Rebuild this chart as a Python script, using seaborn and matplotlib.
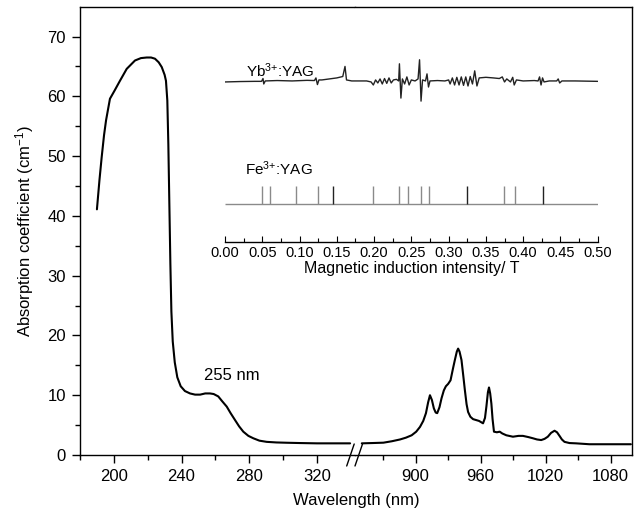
import numpy as np
import matplotlib
matplotlib.use("Agg")
import matplotlib.pyplot as plt
from matplotlib.lines import Line2D
import seaborn as sns

# absorption spectrum, UV part (nm, cm^-1)
uv_nm = [190.0, 191.5, 192.8, 194.2, 195.4, 197.7, 200.5, 203.6, 207.6, 212.5,
         216.0, 219.4, 222.0, 224.3, 226.5, 228.3, 230.0, 230.8, 231.6, 232.2,
         232.8, 233.4, 234.0, 234.8, 236.0, 237.5, 239.5, 242.0, 245.0, 248.0,
         251.0, 254.0, 256.8, 259.0, 261.7, 264.0, 266.7, 269.0, 271.6, 274.0,
         276.5, 279.5, 282.4, 286.0, 290.3, 296.0, 302.2, 310.0, 320.0, 329.7,
         339.6]
uv_abs = [41.1, 46.0, 49.8, 53.5, 56.0, 59.6, 61.0, 62.6, 64.6, 66.0,
          66.4, 66.5, 66.5, 66.3, 65.7, 64.9, 63.6, 62.6, 59.3, 52.0,
          42.0, 32.0, 24.0, 19.0, 15.5, 13.0, 11.5, 10.7, 10.3, 10.1,
          10.1, 10.3, 10.3, 10.2, 9.8, 9.0, 8.1, 7.0, 5.85, 4.8,
          3.9, 3.2, 2.8, 2.4, 2.2, 2.1, 2.05, 2.0, 1.95, 1.95,
          1.95]

# absorption spectrum, NIR part
nir_nm = [850.3, 860, 870.2, 878, 885.6, 891, 896.3, 900.5, 904, 907,
          909.5, 911.5, 913.2, 915, 916.8, 918.5, 919.9, 922, 923.9, 926,
          927.9, 930, 932.2, 934.5, 936.2, 938, 939.2, 940.5, 942.3, 944,
          945.4, 947, 948.4, 950.5, 953, 958.5, 962.2, 964, 965.3, 966.7,
          967.7, 968.8, 969.9, 971, 972.3, 975, 977.6, 980, 983.7, 989.8,
          995, 999, 1004, 1008.2, 1012, 1015.9, 1019, 1022, 1025, 1028.2,
          1030.5, 1032.8, 1035, 1037.4, 1042, 1048.1, 1060.4, 1098.7]
nir_abs = [1.95, 2.0, 2.06, 2.3, 2.6, 2.9, 3.3, 3.9, 4.7, 5.7,
           7.0, 8.8, 10.0, 9.2, 7.8, 7.1, 7.0, 8.0, 9.5, 10.8,
           11.5, 11.9, 12.5, 14.5, 15.9, 17.3, 17.8, 17.3, 15.9, 13.2,
           10.9, 8.5, 7.2, 6.4, 6.0, 5.7, 5.3, 6.2, 8.1, 10.5,
           11.3, 10.3, 8.6, 6.0, 3.9, 3.8, 3.9, 3.6, 3.3, 3.06,
           3.2, 3.2, 3.0, 2.8, 2.6, 2.5, 2.7, 3.06, 3.7, 4.06,
           3.8, 3.2, 2.6, 2.2, 2.0, 1.95, 1.8, 1.8]

# EPR trace of Yb3+:YAG (field in T, signal in arbitrary units)
yb_field = [0.000, 0.020, 0.040, 0.049, 0.051, 0.052, 0.054, 0.070, 0.090, 0.110,
            0.120, 0.122, 0.124, 0.126, 0.130, 0.140, 0.150, 0.158, 0.161, 0.163,
            0.170, 0.190, 0.196, 0.199, 0.202, 0.205, 0.208, 0.211, 0.214, 0.217,
            0.220, 0.223, 0.226, 0.230, 0.233, 0.234, 0.236, 0.238, 0.241, 0.244,
            0.247, 0.250, 0.255, 0.259, 0.261, 0.263, 0.265, 0.269, 0.271, 0.273,
            0.275, 0.285, 0.295, 0.300, 0.302, 0.305, 0.308, 0.311, 0.314, 0.317,
            0.320, 0.323, 0.326, 0.329, 0.332, 0.335, 0.338, 0.341, 0.350, 0.360,
            0.368, 0.372, 0.375, 0.378, 0.383, 0.386, 0.388, 0.391, 0.400, 0.415,
            0.420, 0.422, 0.424, 0.426, 0.428, 0.435, 0.445, 0.447, 0.449, 0.452,
            0.470, 0.500]
yb_signal = [-0.05, -0.03, -0.02, -0.02, 0.12, -0.15, 0.0, 0.02, 0.0, 0.03,
             0.02, 0.15, -0.18, 0.05, 0.05, 0.10, 0.15, 0.22, 0.72, 0.05,
             0.0, 0.0, -0.05, -0.2, 0.05, -0.1, 0.1, -0.15, 0.12, -0.12,
             0.15, -0.1, 0.05, 0.08, 0.0, 0.85, -0.85, 0.1, -0.15, 0.2,
             -0.2, 0.05, 0.0, 0.1, 1.05, -1.0, 0.05, 0.0, 0.35, -0.3,
             0.0, 0.02, 0.0, 0.05, -0.15, 0.15, -0.2, 0.18, -0.2, 0.2,
             -0.22, 0.2, -0.25, 0.22, -0.15, 0.5, -0.25, 0.15, 0.18, 0.15,
             0.12, 0.2, -0.05, 0.1, -0.05, 0.18, -0.2, 0.05, 0.0, 0.02,
             0.0, 0.2, -0.2, 0.15, -0.05, 0.0, 0.0, 0.1, -0.1, 0.0,
             0.0, -0.02]

# Fe3+:YAG line positions (T)
fe_lines = [0.049, 0.061, 0.095, 0.125, 0.145, 0.198, 0.234, 0.245,
            0.263, 0.274, 0.324, 0.374, 0.389, 0.426]
fe_dark = [0.145, 0.324, 0.426]

sns.set_style("ticks")
plt.rcParams["font.family"] = ["Liberation Sans", "DejaVu Sans"]
plt.rcParams["mathtext.fontset"] = "custom"
plt.rcParams["mathtext.rm"] = "Liberation Sans"
plt.rcParams["mathtext.it"] = "Liberation Sans:italic"
plt.rcParams["mathtext.bf"] = "Liberation Sans:bold"
plt.rcParams["text.color"] = "black"
plt.rcParams["axes.labelcolor"] = "black"
plt.rcParams["xtick.color"] = "black"
plt.rcParams["ytick.color"] = "black"

W, H = 641, 513
fig = plt.figure(figsize=(W / 100, H / 100), dpi=100)

bot, top = 455, 6.7
ax_l = fig.add_axes([80 / W, (H - bot) / H, 275 / W, (bot - top) / H])
ax_r = fig.add_axes([355 / W, (H - bot) / H, 277.3 / W, (bot - top) / H])

sns.lineplot(x=uv_nm, y=uv_abs, ax=ax_l, color="black", lw=1.5, sort=False, estimator=None)
sns.lineplot(x=nir_nm, y=nir_abs, ax=ax_r, color="black", lw=1.5, sort=False, estimator=None)

for ax in (ax_l, ax_r):
    ax.set_ylim(0, 75)
    for s in ax.spines.values():
        s.set_linewidth(1.0)
        s.set_color("black")
    ax.tick_params(axis="x", which="major", length=6, width=1.0, labelsize=12, pad=4, direction="out")
    ax.tick_params(axis="x", which="minor", length=3.5, width=1.0, direction="out")
    ax.set_xlabel("")
    ax.set_ylabel("")

ax_l.set_xlim(180, 342.5)
ax_l.set_xticks([200, 240, 280, 320])
ax_l.set_xticks([180, 220, 260, 300], minor=True)
ax_l.set_yticks(range(0, 71, 10))
ax_l.set_yticks(range(5, 75, 10), minor=True)
ax_l.tick_params(axis="y", which="major", length=6, width=1.0, labelsize=12, pad=4)
ax_l.tick_params(axis="y", which="minor", length=3.5, width=1.0)
ax_l.spines["right"].set_visible(False)
ax_l.set_ylabel("Absorption coefficient (cm$^{-1}$)", fontsize=12, labelpad=8)

ax_r.set_xlim(844, 1100)
ax_r.set_xticks([900, 960, 1020, 1080])
ax_r.set_xticks([870, 930, 990, 1050], minor=True)
ax_r.set_yticks([])
ax_r.spines["left"].set_visible(False)

fig.text(356 / W, 1 - 500 / H, "Wavelength (nm)", ha="center", va="center", fontsize=12)
ax_l.text(270, 13.3, "255 nm", ha="center", va="center", fontsize=12)

# axis break marks
for x0 in (346.7, 355.0):
    fig.add_artist(Line2D([x0 / W, (x0 + 7.5) / W], [1 - 466 / H, 1 - 444 / H],
                          color="black", lw=1.0))

# inset with EPR spectra
in_l, in_r, in_b, in_t = 225, 597.7, 241.7, 40
ax_in = fig.add_axes([in_l / W, (H - in_b) / H, (in_r - in_l) / W, (in_b - in_t) / H])
ax_in.patch.set_alpha(0)
sns.lineplot(x=yb_field, y=np.array(yb_signal) + 7.97, ax=ax_in, color="#222222",
             lw=1.0, sort=False, estimator=None)
ax_in.hlines(1.87, 0, 0.5, color="#8a8a8a", lw=1.0)
fe_light = [f for f in fe_lines if f not in fe_dark]
ax_in.vlines(fe_light, 1.87, 2.76, color="#8a8a8a", lw=1.0)
ax_in.vlines(fe_dark, 1.87, 2.76, color="#222222", lw=1.0)
ax_in.set_xlim(0, 0.5)
ax_in.set_ylim(0, 10)
for side in ("left", "right", "top"):
    ax_in.spines[side].set_visible(False)
ax_in.spines["bottom"].set_linewidth(1.0)
ax_in.spines["bottom"].set_color("black")
ticks = np.round(np.arange(0, 0.501, 0.05), 2)
ax_in.set_xticks(ticks)
ax_in.set_xticklabels([f"{t:.2f}" for t in ticks])
ax_in.set_xticks(np.round(np.arange(0.025, 0.5, 0.05), 3), minor=True)
ax_in.set_yticks([])
ax_in.tick_params(axis="x", which="major", direction="in", length=4, width=0.8, labelsize=10.5, pad=3)
ax_in.tick_params(axis="x", which="minor", direction="in", length=3, width=0.8)
ax_in.set_xlabel("Magnetic induction intensity/ T", fontsize=11.5, labelpad=1)
ax_in.set_ylabel("")
ax_in.text(0.028, 8.47, "Yb$^{3{+}}$:YAG", ha="left", va="center", fontsize=11)
ax_in.text(0.027, 3.6, "Fe$^{3{+}}$:YAG", ha="left", va="center", fontsize=11)

fig.savefig("out.png", dpi=100)
